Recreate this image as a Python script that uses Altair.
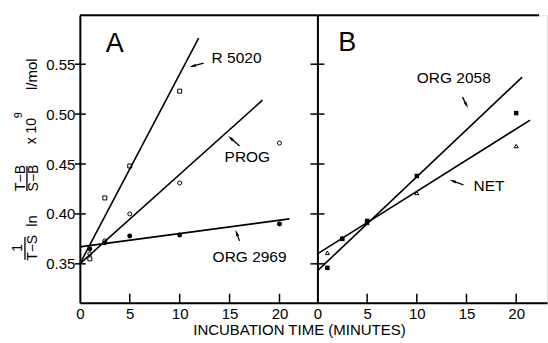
import altair as alt
import pandas as pd

FONT = "Liberation Sans"

# ---------------- data ----------------
# Panel A
a_time = [1, 2.5, 5, 10]
r5020 = [0.355, 0.416, 0.448, 0.523]
a_time_p = [1, 2.5, 5, 10, 20]
prog = [0.360, 0.373, 0.400, 0.431, 0.471]
org2969 = [0.365, 0.371, 0.378, 0.379, 0.390]
# Panel B
b_time = [1, 2.5, 5, 10, 20]
org2058 = [0.346, 0.375, 0.393, 0.438, 0.501]
net = [0.361, 0.376, 0.391, 0.421, 0.468]

# fitted lines (start/end)
a_line_t0 = [0, 0, 0]
a_line_t1 = [11.9, 18.3, 21.0]
a_line_y0 = [0.350, 0.350, 0.367]
a_line_y1 = [0.576, 0.514, 0.395]
b_line_t0 = [0, 0]
b_line_t1 = [20.6, 21.4]
b_line_y0 = [0.343, 0.360]
b_line_y1 = [0.537, 0.494]

# labels
a_lab_txt = ["R 5020", "PROG", "ORG 2969"]
a_lab_t = [13.2, 14.5, 13.3]
a_lab_y = [0.556, 0.457, 0.357]
b_lab_txt = ["ORG 2058", "NET"]
b_lab_t = [10.0, 15.7]
b_lab_y = [0.536, 0.428]

# arrows (tail -> head)
a_arr_t0 = [12.4, 16.0, 16.0]
a_arr_y0 = [0.551, 0.468, 0.373]
a_arr_t1 = [11.3, 15.1, 15.7]
a_arr_y1 = [0.548, 0.476, 0.381]
a_arr_ang = [255, 312, 339]
b_arr_t0 = [14.6, 14.7]
b_arr_y0 = [0.517, 0.429]
b_arr_t1 = [15.0, 13.6]
b_arr_y1 = [0.509, 0.433]
b_arr_ang = [153, 290]

x_ticks = [0, 5, 10, 15, 20]
y_ticks = [0.35, 0.40, 0.45, 0.50, 0.55]

Y_DOM = [0.311, 0.599]
XA_DOM = [0, 23.8]
XB_DOM = [0, 23.1]
WA, WB, H = 238, 230, 288

ysc = alt.Scale(domain=Y_DOM, nice=False, zero=False)


def xs(dom):
    return alt.Scale(domain=dom, nice=False, zero=False)


def panel(dom, w, lines, series, labels, arrows, letter, left_axis):
    if left_axis:
        yaxis = alt.Axis(values=y_ticks, format=".2f", ticks=False, grid=False,
                         labelFont=FONT, labelFontSize=15, labelColor="black",
                         labelPadding=5, domainColor="black", domainWidth=2,
                         title=None)
    else:
        yaxis = alt.Axis(values=y_ticks, labels=False, ticks=False, grid=False,
                         domainColor="black", domainWidth=2, title=None)
    xaxis = alt.Axis(values=x_ticks, format="d", ticks=False, grid=False,
                     labelFont=FONT, labelFontSize=15, labelColor="black",
                     labelPadding=4, domainColor="black", domainWidth=2,
                     title=None, labelFlush=False)

    X = lambda f: alt.X(f, type="quantitative", scale=xs(dom), axis=xaxis)
    Y = lambda f: alt.Y(f, type="quantitative", scale=ysc, axis=yaxis)
    layers = []

    # inward x ticks
    layers.append(alt.Chart(pd.DataFrame({"t": x_ticks[1:]})).mark_rule(
        color="black", strokeWidth=1.5).encode(
        x=X("t"), y=alt.value(H), y2=alt.value(H - 9)))
    # crossing y ticks
    x0, x1 = (-5, 6) if left_axis else (-7, 7)
    layers.append(alt.Chart(pd.DataFrame({"v": y_ticks})).mark_rule(
        color="black", strokeWidth=1.5).encode(
        y=Y("v"), x=alt.value(x0), x2=alt.value(x1)))
    # top border
    layers.append(alt.Chart(pd.DataFrame({"a": [0]})).mark_rule(
        color="black", strokeWidth=2).encode(
        y=alt.value(0), x=alt.value(0), x2=alt.value(w if left_axis else 222)))

    # fitted lines
    t0, t1, y0, y1 = lines
    layers.append(alt.Chart(pd.DataFrame({"t0": t0, "t1": t1, "y0": y0, "y1": y1}))
                  .mark_rule(color="black", strokeWidth=1.6)
                  .encode(x=X("t0"), x2="t1", y=Y("y0"), y2="y1"))

    # points
    for t, vals, shape, filled, size in series:
        layers.append(alt.Chart(pd.DataFrame({"t": t, "v": vals}))
                      .mark_point(shape=shape, filled=filled, color="black",
                                  size=size, strokeWidth=1, opacity=1)
                      .encode(x=X("t"), y=Y("v")))

    # labels
    txt, lt, ly = labels
    layers.append(alt.Chart(pd.DataFrame({"txt": txt, "t": lt, "v": ly}))
                  .mark_text(font=FONT, fontSize=15.5, align="left",
                             baseline="middle", color="black")
                  .encode(x=X("t"), y=Y("v"), text="txt:N"))
    # letter
    lt_, ly_, lab = letter
    layers.append(alt.Chart(pd.DataFrame({"txt": [lab], "t": [lt_], "v": [ly_]}))
                  .mark_text(font=FONT, fontSize=27, align="center",
                             baseline="middle", color="black")
                  .encode(x=X("t"), y=Y("v"), text="txt:N"))

    # arrows
    at0, ay0, at1, ay1, ang = arrows
    adf = pd.DataFrame({"t0": at0, "y0": ay0, "t1": at1, "y1": ay1, "ang": ang})
    layers.append(alt.Chart(adf).mark_rule(color="black", strokeWidth=1.3)
                  .encode(x=X("t0"), x2="t1", y=Y("y0"), y2="y1"))
    layers.append(alt.Chart(adf).mark_point(shape="M0,-1L0.45,1L-0.45,1Z",
                                            filled=True, color="black", size=45,
                                            opacity=1)
                  .encode(x=X("t1"), y=Y("y1"),
                          angle=alt.Angle("ang:Q", scale=None)))
    return layers


layers_a = panel(
    XA_DOM, WA,
    (a_line_t0, a_line_t1, a_line_y0, a_line_y1),
    [(a_time, r5020, "square", False, 16),
     (a_time_p, prog, "circle", False, 16),
     (a_time_p, org2969, "circle", True, 25)],
    (a_lab_txt, a_lab_t, a_lab_y),
    (a_arr_t0, a_arr_y0, a_arr_t1, a_arr_y1, a_arr_ang),
    (3.5, 0.570, "A"), True)

# y title pieces (pixel positions relative to panel A's plot area)
yt_txt = ["1", "T\u2212S", "ln", "T\u2212B", "S\u2212B", "x 10", "9", "l/mol"]
yt_px = [-62, -47, -48, -59, -46, -48, -61, -48]
yt_py = [233, 233, 206, 163, 163, 116, 100, 59]
yt_sz = [14, 14, 15, 14, 14, 14, 11, 15]
layers_a.append(alt.Chart(pd.DataFrame({"txt": yt_txt, "px": yt_px, "py": yt_py, "sz": yt_sz}))
                .mark_text(font=FONT, angle=270, align="center", baseline="middle",
                           color="black")
                .encode(x=alt.X("px:Q", scale=None, axis=None),
                        y=alt.Y("py:Q", scale=None, axis=None),
                        text="txt:N", size=alt.Size("sz:Q", scale=None, legend=None)))
fr_px = [-55, -53]
fr_py0 = [222, 151]
fr_py1 = [245, 176]
layers_a.append(alt.Chart(pd.DataFrame({"px": fr_px, "p0": fr_py0, "p1": fr_py1}))
                .mark_rule(color="black", strokeWidth=1.3)
                .encode(x=alt.X("px:Q", scale=None, axis=None),
                        y=alt.Y("p0:Q", scale=None, axis=None),
                        y2="p1:Q"))
# x title
layers_a.append(alt.Chart(pd.DataFrame({"txt": ["INCUBATION TIME (MINUTES)"],
                                        "px": [220], "py": [315]}))
                .mark_text(font=FONT, fontSize=15, align="center",
                           baseline="middle", color="black")
                .encode(x=alt.X("px:Q", scale=None, axis=None),
                        y=alt.Y("py:Q", scale=None, axis=None),
                        text="txt:N"))
# invisible frame anchor for the page's origin
layers_a.append(alt.Chart(pd.DataFrame({"a": [0]})).mark_rule(
    strokeOpacity=0, strokeWidth=1).encode(
    x=alt.value(-79.5), y=alt.value(-14), y2=alt.value(329)))

layers_b = panel(
    XB_DOM, WB,
    (b_line_t0, b_line_t1, b_line_y0, b_line_y1),
    [(b_time, org2058, "square", True, 20),
     (b_time, net, "triangle-up", False, 16)],
    (b_lab_txt, b_lab_t, b_lab_y),
    (b_arr_t0, b_arr_y0, b_arr_t1, b_arr_y1, b_arr_ang),
    (3.0, 0.571, "B"), False)

A = alt.layer(*layers_a).properties(width=WA, height=H)
B = alt.layer(*layers_b).properties(width=WB, height=H)

chart = alt.hconcat(A, B, spacing=0, bounds="flush").properties(
    padding=0
).configure_view(stroke=None).configure(background="white")

chart.save("out.html", embed_options={"renderer": "svg", "actions": False})
